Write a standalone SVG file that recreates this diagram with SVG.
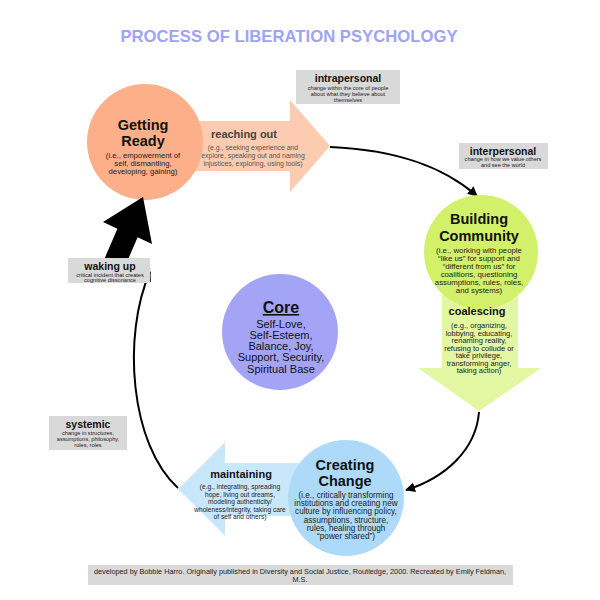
<svg xmlns="http://www.w3.org/2000/svg" width="600" height="600" viewBox="0 0 600 600">
<defs>
<marker id="ah" viewBox="0 0 10 10" refX="9" refY="5" markerWidth="5" markerHeight="5" orient="auto"><path d="M0,0 L10,5 L0,10 z" fill="#000"/></marker>
<style>
text{font-family:"Liberation Sans",Arial,sans-serif;text-anchor:middle;fill:#111}
.h{font-weight:bold;font-size:14.5px}
.d{font-size:7.7px;fill:#222}
.lb{font-weight:bold;font-size:11px}
.bx{fill:#d9d9d9}
.bt{font-weight:bold;font-size:10.5px}
.bd{font-size:5.6px;fill:#222}
.con{fill:none;stroke:#000;stroke-width:2;marker-end:url(#ah)}
</style>
</defs>
<rect width="600" height="600" fill="#fff"/>
<text x="289" y="42" style="font-size:16.7px;font-weight:bold;fill:#9fa3f5">PROCESS OF LIBERATION PSYCHOLOGY</text>

<g id="connectors">
<path class="con" d="M330,147 C400,150 445,168 477,196"/>
<path class="con" d="M479,412 C476,450 445,478 406,490"/>
<path class="con" d="M178,488 C130,445 122,335 150,272"/>
</g>

<g id="reaching-out">
<polygon points="195,121 290,121 290,100 330,146 290,192 290,171 195,171" fill="#fdcbb0"/>
<text x="244" y="138" class="lb" style="fill:#444">reaching out</text>
<text x="253" y="150" class="d" style="fill:#555;font-size:6.9px">(e.g., seeking experience and</text>
<text x="253" y="158" class="d" style="fill:#555;font-size:6.9px">explore, speaking out and naming</text>
<text x="253" y="166" class="d" style="fill:#555;font-size:6.9px">injustices, exploring, using tools)</text>
</g>

<g id="getting-ready">
<circle cx="145" cy="142" r="58" fill="#fcaf88"/>
<text x="143" y="130" class="h">Getting</text>
<text x="143" y="146" class="h">Ready</text>
<text x="143" y="158" class="d">(i.e., empowerment of</text>
<text x="143" y="166" class="d">self, dismantling,</text>
<text x="143" y="174" class="d">developing, gaining)</text>
</g>

<g id="intrapersonal">
<rect x="296" y="70" width="104" height="34" class="bx"/>
<text x="348" y="82" class="bt">intrapersonal</text>
<text x="348" y="90" class="bd">change within the core of people</text>
<text x="348" y="96" class="bd">about what they believe about</text>
<text x="348" y="102" class="bd">themselves</text>
</g>

<g id="interpersonal">
<rect x="459" y="143" width="89" height="26" class="bx"/>
<text x="503" y="155" class="bt">interpersonal</text>
<text x="503" y="161" class="bd">change in how we value others</text>
<text x="503" y="167" class="bd">and see the world</text>
</g>

<g id="coalescing">
<polygon points="442,270 518,270 518,368 541,368 479,411 418,368 442,368" fill="#e3f7a3"/>
</g>

<g id="building-community">
<circle cx="481" cy="252" r="57" fill="#d3f06a"/>
<text x="479" y="224" class="h">Building</text>
<text x="479" y="241" class="h">Community</text>
<text x="479" y="253" class="d" style="font-size:7.8px">(i.e., working with people</text>
<text x="479" y="261" class="d" style="font-size:7.8px">“like us” for support and</text>
<text x="479" y="269" class="d" style="font-size:7.8px">“different from us” for</text>
<text x="479" y="277" class="d" style="font-size:7.8px">coalitions, questioning</text>
<text x="479" y="285" class="d" style="font-size:7.8px">assumptions, rules, roles,</text>
<text x="479" y="293" class="d" style="font-size:7.8px">and systems)</text>
</g>

<g id="coalescing-text">
<text x="477" y="315" class="lb">coalescing</text>
<text x="479" y="328" class="d" style="font-size:7.5px">(e.g., organizing,</text>
<text x="479" y="335.5" class="d" style="font-size:7.5px">lobbying, educating,</text>
<text x="479" y="343" class="d" style="font-size:7.5px">renaming reality,</text>
<text x="479" y="350.5" class="d" style="font-size:7.5px">refusing to collude or</text>
<text x="479" y="358" class="d" style="font-size:7.5px">take privilege,</text>
<text x="479" y="365.5" class="d" style="font-size:7.5px">transforming anger,</text>
<text x="479" y="373" class="d" style="font-size:7.5px">taking action)</text>
</g>

<g id="maintaining">
<polygon points="300,463 225,463 225,442 178,489 225,536 225,516 300,516" fill="#c9e7fb"/>
<text x="241" y="478" class="lb">maintaining</text>
<text x="240" y="489" class="d" style="font-size:6.6px">(e.g., integrating, spreading</text>
<text x="240" y="496.5" class="d" style="font-size:6.6px">hope, living out dreams,</text>
<text x="240" y="504" class="d" style="font-size:6.6px">modeling authenticity/</text>
<text x="240" y="511.5" class="d" style="font-size:6.6px">wholeness/integrity, taking care</text>
<text x="240" y="519" class="d" style="font-size:6.6px">of self and others)</text>
</g>

<g id="creating-change">
<circle cx="346" cy="498" r="58" fill="#acdaf8"/>
<text x="345" y="470" class="h">Creating</text>
<text x="345" y="486" class="h">Change</text>
<text x="346" y="498" class="d" style="font-size:8.2px">(i.e., critically transforming</text>
<text x="346" y="506.2" class="d" style="font-size:8.2px">institutions and creating new</text>
<text x="346" y="514.4" class="d" style="font-size:8.2px">culture by influencing policy,</text>
<text x="346" y="522.6" class="d" style="font-size:8.2px">assumptions, structure,</text>
<text x="346" y="530.8" class="d" style="font-size:8.2px">rules, healing through</text>
<text x="346" y="539" class="d" style="font-size:8.2px">“power shared”)</text>
</g>

<g id="core">
<circle cx="280" cy="332" r="58" fill="#a4a4f6"/>
<text x="281" y="313" style="font-weight:bold;font-size:16px;text-decoration:underline">Core</text>
<text x="281" y="328" style="font-size:11px">Self-Love,</text>
<text x="281" y="339" style="font-size:11px">Self-Esteem,</text>
<text x="281" y="350" style="font-size:11px">Balance, Joy,</text>
<text x="281" y="361" style="font-size:11px">Support, Security,</text>
<text x="281" y="373" style="font-size:11px">Spiritual Base</text>
</g>

<g id="waking-up">
<polygon points="143,197 152,244 137.6,237.3 123.8,269.3 103.6,260.7 117.4,228.7 103,222" fill="#000"/>
<rect x="68" y="258" width="82" height="25" class="bx"/>
<text x="110" y="270" class="bt">waking up</text>
<text x="110" y="276.5" class="bd">critical incident that creates</text>
<text x="110" y="282" class="bd">cognitive dissonance</text>
</g>

<g id="systemic">
<rect x="49" y="416" width="78" height="34" class="bx"/>
<text x="88" y="428" class="bt">systemic</text>
<text x="88" y="434.5" class="bd">change in structures,</text>
<text x="88" y="440.5" class="bd">assumptions, philosophy,</text>
<text x="88" y="446.5" class="bd">rules, roles</text>
</g>

<g id="footer">
<rect x="88" y="565" width="425" height="20" class="bx"/>
<text x="300" y="574" style="font-size:7.3px;fill:#222">developed by Bobbie Harro. Originally published in Diversity and Social Justice, Routledge, 2000. Recreated by Emily Feldman,</text>
<text x="300" y="582" style="font-size:7.3px;fill:#222">M.S.</text>
</g>
</svg>
